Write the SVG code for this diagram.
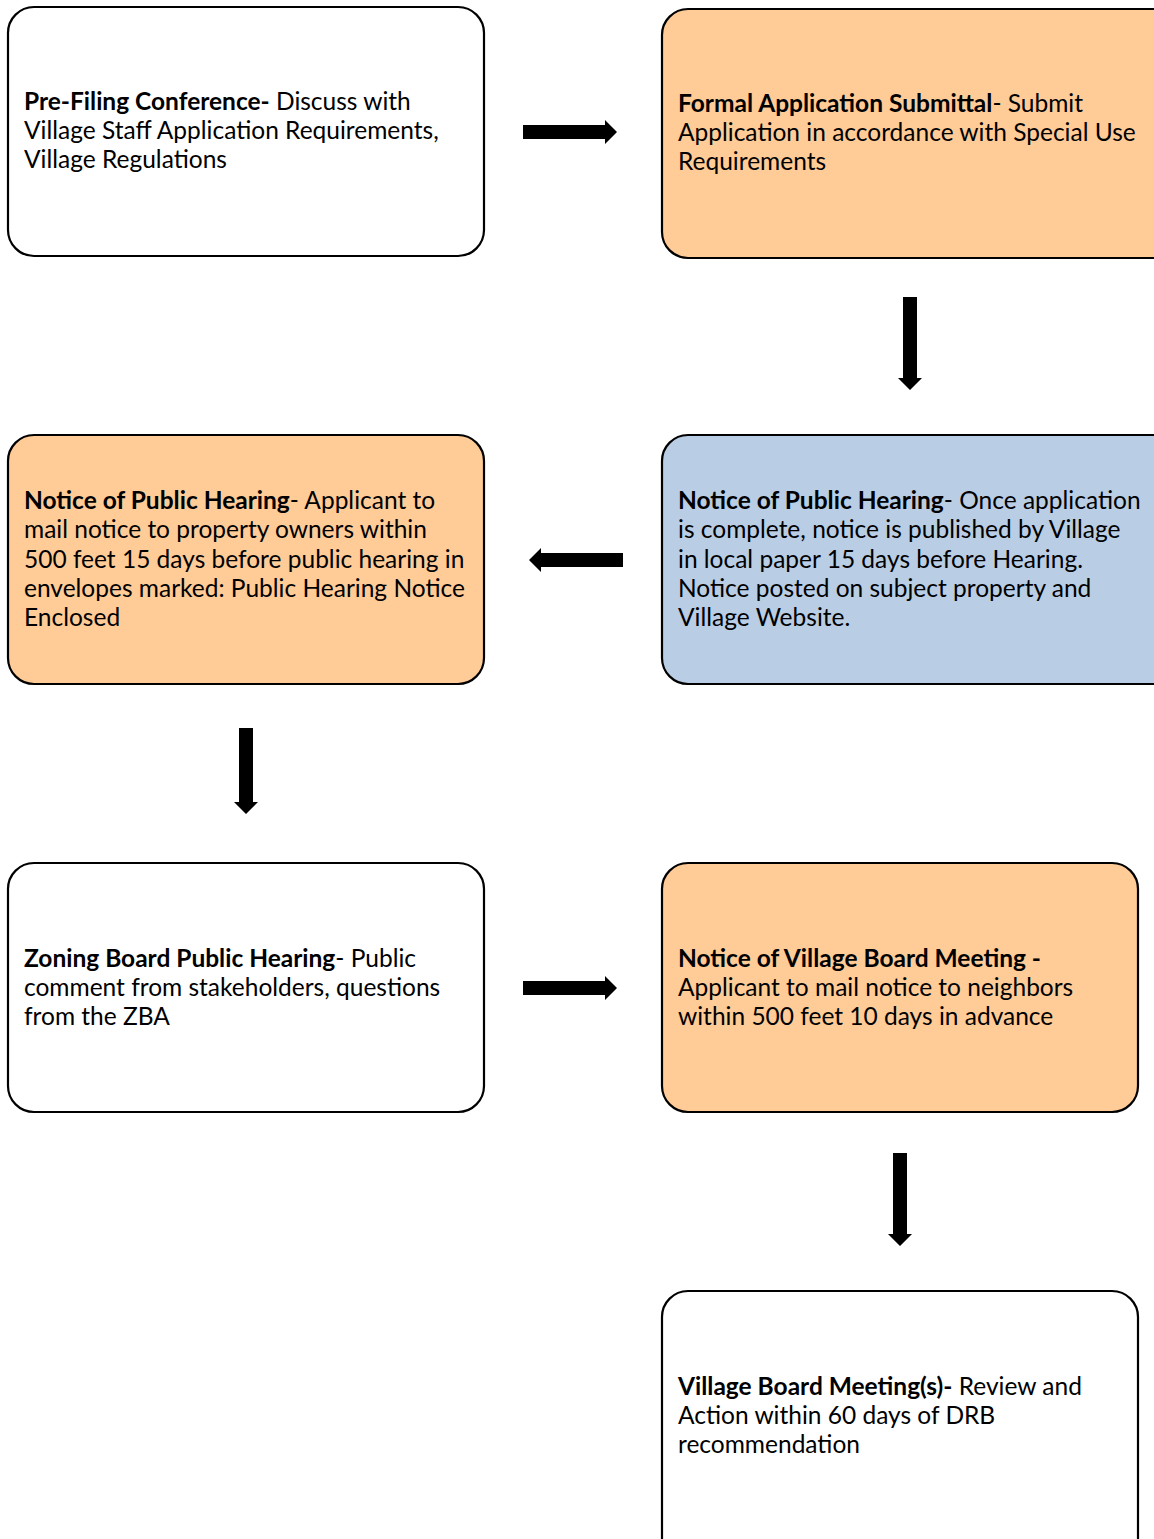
<svg xmlns="http://www.w3.org/2000/svg" width="1154" height="1539" viewBox="0 0 1154 1539">
<style>
.box{stroke:#000;stroke-width:2.2}
.w{fill:#fff}
.o{fill:#FFCB97}
.b{fill:#B9CDE5}
text{font-family:Lato,"Liberation Sans",sans-serif;font-size:24.5px;fill:#000}
.h{font-weight:bold}
.arrow{fill:#000}
</style>
<rect width="1154" height="1539" fill="#fff"/>
<g id="connectors">
<polygon class="arrow" points="523,125 605,125 605,120 617,132 605,144 605,139 523,139"/>
<polygon class="arrow" points="903,297 917,297 917,378 922,378 910,390 898,378 903,378"/>
<polygon class="arrow" points="623,553 541,553 541,548 529,560 541,572 541,567 623,567"/>
<polygon class="arrow" points="239,728 253,728 253,802 258,802 246,814 234,802 239,802"/>
<polygon class="arrow" points="523,981 605,981 605,976 617,988 605,1000 605,995 523,995"/>
<polygon class="arrow" points="893,1153 907,1153 907,1234 912,1234 900,1246 888,1234 893,1234"/>
</g>
<g id="n1">
<rect class="box w" x="8" y="7" width="476" height="249" rx="26"/>
<text x="24" y="110"><tspan class="h">Pre-Filing Conference-</tspan> Discuss with</text>
<text x="24" y="139">Village Staff Application Requirements,</text>
<text x="24" y="168">Village Regulations</text>
</g>
<g id="n2">
<rect class="box o" x="662" y="9" width="520" height="249" rx="26"/>
<text x="678" y="112"><tspan class="h">Formal Application Submittal</tspan>- Submit</text>
<text x="678" y="141">Application in accordance with Special Use</text>
<text x="678" y="170">Requirements</text>
</g>
<g id="n3">
<rect class="box b" x="662" y="435" width="520" height="249" rx="26"/>
<text x="678" y="509"><tspan class="h">Notice of Public Hearing</tspan>- Once application</text>
<text x="678" y="538">is complete, notice is published by Village</text>
<text x="678" y="568">in local paper 15 days before Hearing.</text>
<text x="678" y="597">Notice posted on subject property and</text>
<text x="678" y="626">Village Website.</text>
</g>
<g id="n4">
<rect class="box o" x="8" y="435" width="476" height="249" rx="26"/>
<text x="24" y="509"><tspan class="h">Notice of Public Hearing</tspan>- Applicant to</text>
<text x="24" y="538">mail notice to property owners within</text>
<text x="24" y="568">500 feet 15 days before public hearing in</text>
<text x="24" y="597">envelopes marked: Public Hearing Notice</text>
<text x="24" y="626">Enclosed</text>
</g>
<g id="n5">
<rect class="box w" x="8" y="863" width="476" height="249" rx="26"/>
<text x="24" y="967"><tspan class="h">Zoning Board Public Hearing</tspan>- Public</text>
<text x="24" y="996">comment from stakeholders, questions</text>
<text x="24" y="1025">from the ZBA</text>
</g>
<g id="n6">
<rect class="box o" x="662" y="863" width="476" height="249" rx="26"/>
<text x="678" y="967" class="h">Notice of Village Board Meeting -</text>
<text x="678" y="996">Applicant to mail notice to neighbors</text>
<text x="678" y="1025">within 500 feet 10 days in advance</text>
</g>
<g id="n7">
<rect class="box w" x="662" y="1291" width="476" height="280" rx="26"/>
<text x="678" y="1395"><tspan class="h">Village Board Meeting(s)-</tspan> Review and</text>
<text x="678" y="1424">Action within 60 days of DRB</text>
<text x="678" y="1453">recommendation</text>
</g>
</svg>
